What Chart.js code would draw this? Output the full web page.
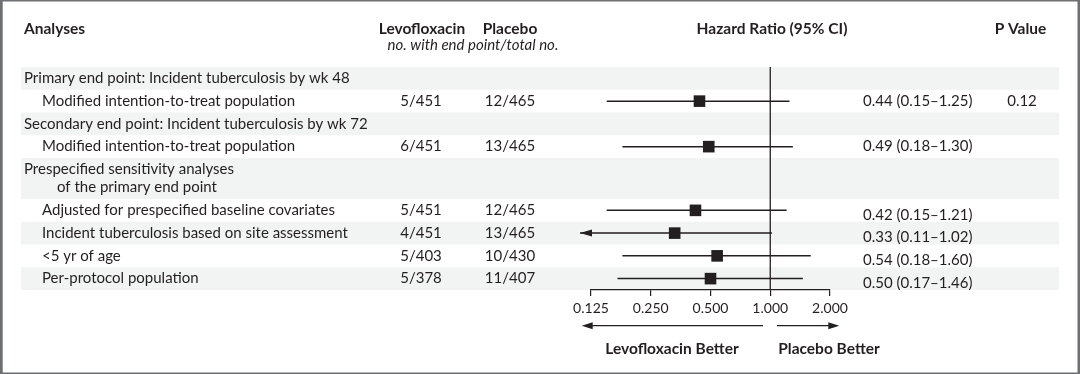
<!DOCTYPE html>
<html><head><meta charset="utf-8">
<script src="https://cdn.jsdelivr.net/npm/chart.js@4.4.1/dist/chart.umd.min.js"></script>
<style>html,body{margin:0;padding:0;background:#fff;}#wrap{width:1080px;height:374px;position:relative;}canvas{display:block}</style>
</head><body><div id="wrap"><canvas id="c" width="1080" height="374" style="width:1080px;height:374px"></canvas></div>
<script>
// ---------- data ----------
const rowLabels = [
  ["Primary end point: Incident tuberculosis by wk 48"],
  ["Modified intention-to-treat population"],
  ["Secondary end point: Incident tuberculosis by wk 72"],
  ["Modified intention-to-treat population"],
  ["Prespecified sensitivity analyses", "of the primary end point"],
  ["Adjusted for prespecified baseline covariates"],
  ["Incident tuberculosis based on site assessment"],
  ["<5 yr of age"],
  ["Per-protocol population"]
];
const rowLevel = [0, 1, 0, 1, 0, 1, 1, 1, 1];
const levoCounts = [null, "5/451", null, "6/451", null, "5/451", "4/451", "5/403", "5/378"];
const placeboCounts = [null, "12/465", null, "13/465", null, "12/465", "13/465", "10/430", "11/407"];
const hazardRatio = [null, 0.44, null, 0.49, null, 0.42, 0.33, 0.54, 0.50];
const ciLower = [null, 0.15, null, 0.18, null, 0.15, 0.11, 0.18, 0.17];
const ciUpper = [null, 1.25, null, 1.30, null, 1.21, 1.02, 1.60, 1.46];
const pValues = [null, "0.12", null, null, null, null, null, null, null];
const xTicks = [0.125, 0.25, 0.5, 1, 2];
const tickLabels = ["0.125", "0.250", "0.500", "1.000", "2.000"];
const headers = { analyses: "Analyses", levo: "Levofloxacin", placebo: "Placebo",
  sub: "no. with end point/total no.", hr: "Hazard Ratio (95% CI)", p: "P Value" };
const favourLeft = "Levofloxacin Better";
const favourRight = "Placebo Better";

// ---------- layout helpers ----------
const FONT = "Lato";
const INK = "#231f20";
const rowSpan = rowLabels.map(l => l.length > 1 ? 1.8 : 1);
const rowStart = [];
let acc = 0;
rowSpan.forEach((s, i) => { rowStart.push(acc); acc += s; });
const totalUnits = acc;
const rowCenter = rowStart.map((s, i) => s + rowSpan[i] / 2);

const ciData = [];
const hrData = [];
hazardRatio.forEach((h, i) => {
  if (h == null) return;
  ciData.push({ x: ciLower[i], y: rowCenter[i] });
  ciData.push({ x: ciUpper[i], y: rowCenter[i] });
  ciData.push({ x: null, y: null });
  hrData.push({ x: h, y: rowCenter[i] });
});

const fmt = v => v.toFixed(2);

const forestPlugin = {
  id: 'forest',
  beforeDraw(chart) {
    const ctx = chart.ctx, y = chart.scales.y;
    ctx.save();
    ctx.fillStyle = '#fff';
    ctx.fillRect(0, 0, chart.width, chart.height);
    ctx.fillStyle = '#f2f3f3';
    rowStart.forEach((s, i) => {
      if (i % 2 !== 0) return;
      const t = y.getPixelForValue(s), b = y.getPixelForValue(s + rowSpan[i]);
      ctx.fillRect(21, t, 1059 - 21, b - t);
    });
    ctx.fillStyle = '#6d6f72';
    ctx.fillRect(0, 0, 1080, 1.5);
    ctx.fillRect(0, 0, 2.7, 374);
    ctx.fillRect(1077.5, 0, 2.5, 374);
    ctx.fillRect(0, 372.5, 1080, 1.5);
    ctx.restore();
  },
  beforeDatasetsDraw(chart) {
    const ctx = chart.ctx, x = chart.scales.x, a = chart.chartArea;
    const x1 = x.getPixelForValue(1);
    ctx.save();
    ctx.strokeStyle = INK; ctx.lineWidth = 1.3;
    ctx.beginPath(); ctx.moveTo(x1, a.top); ctx.lineTo(x1, a.bottom); ctx.stroke();
    ctx.restore();
  },
  afterDatasetsDraw(chart) {
    const ctx = chart.ctx, x = chart.scales.x, y = chart.scales.y;
    ctx.save();
    ctx.fillStyle = INK;
    ciLower.forEach((lo, i) => {
      if (lo == null || lo >= x.min) return;
      const px = x.getPixelForValue(lo), py = y.getPixelForValue(rowCenter[i]);
      ctx.beginPath(); ctx.moveTo(px, py); ctx.lineTo(px + 12, py - 3.5); ctx.lineTo(px + 12, py + 3.5); ctx.closePath(); ctx.fill();
    });
    ctx.restore();
  },
  afterDraw(chart) {
    const ctx = chart.ctx, x = chart.scales.x, y = chart.scales.y;
    ctx.save();
    ctx.fillStyle = INK;
    ctx.textBaseline = 'middle';
    ctx.font = `bold 15.5px ${FONT}`;
    ctx.textAlign = 'left'; ctx.fillText(headers.analyses, 24, 29);
    ctx.textAlign = 'center';
    ctx.fillText(headers.levo, 422, 29);
    ctx.fillText(headers.placebo, 510, 29);
    ctx.fillText(headers.hr, 772, 29);
    ctx.fillText(headers.p, 1020.5, 29);
    ctx.font = `italic 15px ${FONT}`;
    ctx.fillText(headers.sub, 473, 45);
    ctx.font = `15px ${FONT}`;
    rowLabels.forEach((lines, i) => {
      const cy = y.getPixelForValue(rowCenter[i]);
      ctx.textAlign = 'left';
      if (lines.length === 1) {
        ctx.fillText(lines[0], rowLevel[i] ? 42 : 24, cy);
      } else {
        ctx.fillText(lines[0], 24, cy - 9);
        ctx.fillText(lines[1], 57, cy + 9);
      }
      ctx.textAlign = 'center';
      if (levoCounts[i]) ctx.fillText(levoCounts[i], 421, cy);
      if (placeboCounts[i]) ctx.fillText(placeboCounts[i], 510, cy);
      if (pValues[i]) ctx.fillText(pValues[i], 1022, cy);
      if (hazardRatio[i] != null) {
        ctx.textAlign = 'left';
        const shift = i > 4 ? 4.5 : 0;
        ctx.fillText(`${fmt(hazardRatio[i])} (${fmt(ciLower[i])}\u2013${fmt(ciUpper[i])})`, 863, cy + shift);
      }
    });
    const x1 = x.getPixelForValue(1), xl = x.getPixelForValue(x.min), xr = x.getPixelForValue(x.max);
    const ay = 325.7;
    ctx.strokeStyle = INK; ctx.lineWidth = 1.3;
    ctx.beginPath(); ctx.moveTo(x1 - 7.3, ay); ctx.lineTo(xl - 9.3 + 10, ay); ctx.stroke();
    ctx.beginPath(); ctx.moveTo(xl - 9.3, ay); ctx.lineTo(xl - 9.3 + 11, ay - 3.5); ctx.lineTo(xl - 9.3 + 11, ay + 3.5); ctx.closePath(); ctx.fill();
    ctx.beginPath(); ctx.moveTo(x1 + 6.7, ay); ctx.lineTo(xr + 9.3 - 10, ay); ctx.stroke();
    ctx.beginPath(); ctx.moveTo(xr + 9.3, ay); ctx.lineTo(xr + 9.3 - 11, ay - 3.5); ctx.lineTo(xr + 9.3 - 11, ay + 3.5); ctx.closePath(); ctx.fill();
    ctx.font = `bold 15.5px ${FONT}`;
    ctx.textAlign = 'center';
    ctx.fillText(favourLeft, 672, 349);
    ctx.fillText(favourRight, 829, 349);
    ctx.restore();
  }
};

new Chart(document.getElementById('c'), {
  type: 'scatter',
  data: {
    datasets: [
      { label: 'CI', data: ciData, showLine: true, spanGaps: false, borderColor: INK, borderWidth: 1.5,
        pointRadius: 0, pointHoverRadius: 0, clip: false },
      { label: 'HR', data: hrData, pointStyle: 'rect', pointRadius: 8.2, pointHoverRadius: 8.2,
        backgroundColor: INK, borderWidth: 0, clip: false }
    ]
  },
  options: {
    responsive: false, animation: false, devicePixelRatio: 1,
    layout: { padding: { left: 591, right: 250, top: 67, bottom: 44 } },
    plugins: { legend: { display: false }, tooltip: { enabled: false } },
    events: [],
    scales: {
      x: {
        type: 'logarithmic', min: xTicks[0], max: xTicks[xTicks.length - 1],
        afterBuildTicks: s => { s.ticks = xTicks.map(v => ({ value: v })); },
        afterFit: s => { s.height = 40; },
        grid: { display: true, drawOnChartArea: false, drawTicks: true, tickLength: 6, color: INK, lineWidth: 1.2 },
        border: { display: true, color: INK, width: 1.2 },
        ticks: { autoSkip: false, maxRotation: 0, padding: 4, color: INK, font: { family: FONT, size: 14 },
          callback: (v, i) => tickLabels[i] }
      },
      y: { type: 'linear', min: 0, max: totalUnits, reverse: true, display: false }
    }
  },
  plugins: [forestPlugin]
});
</script></body></html>
